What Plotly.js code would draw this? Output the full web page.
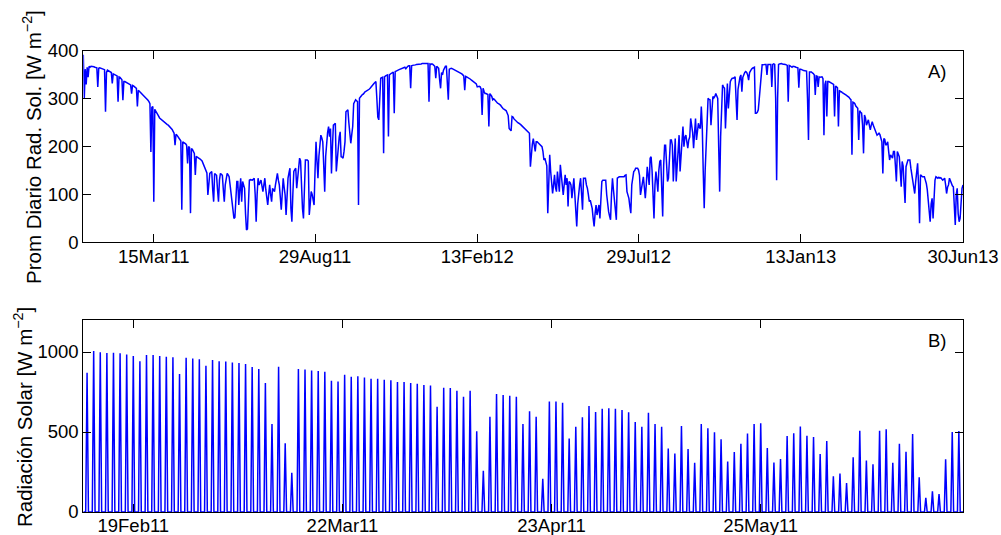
<!DOCTYPE html>
<html><head><meta charset="utf-8">
<script src="https://cdn.plot.ly/plotly-3.0.1.min.js"></script>
<style>html,body{margin:0;padding:0;background:#fff}#chart{width:1001px;height:535px}</style>
</head><body><div id="chart"></div>
<script>
// ---------- Panel A: daily mean solar radiation, one value per day from 2011-01-01 ----------
const dailyStart = '2011-01-01';
const dailyMean = [
392,300,362,330,366,345,368,366,368,368,
368,367,366,366,365,325,364,365,364,363,
362,362,361,273,355,360,359,357,356,355,
332,352,351,350,349,348,294,346,345,343,
340,297,336,336,335,334,333,331,330,329,
311,328,327,325,323,322,284,318,316,314,
312,311,309,307,305,303,300,297,294,290,
189,282,284,85,278,275,272,268,264,260,
258,256,254,252,250,249,248,246,245,243,
242,240,236,232,228,203,226,224,220,217,
215,212,68,210,209,208,206,203,165,200,
198,61,196,194,190,186,141,180,178,177,
175,174,172,170,165,160,155,150,145,99,
120,144,146,148,110,85,144,142,140,110,
85,130,144,142,140,110,85,120,135,144,
141,137,120,99,80,57,50,52,90,127,
127,78,110,134,85,127,120,113,60,26,
28,80,130,131,130,130,132,134,100,43,
100,134,120,125,130,118,106,120,134,110,
88,78,100,120,100,85,113,110,106,120,
135,144,130,120,95,68,100,134,115,99,
57,100,134,145,155,71,43,100,148,152,
155,113,140,169,176,170,92,70,50,110,
172,172,172,170,57,80,106,100,90,78,
150,210,170,134,180,214,224,218,210,160,
106,180,214,230,242,221,238,144,200,245,
247,249,148,180,203,220,231,179,178,176,
190,210,273,275,277,250,224,207,225,242,
290,294,298,296,294,78,301,304,308,309,
310,313,315,316,317,318,320,322,325,328,
330,332,334,336,300,262,256,300,343,344,
345,186,346,348,349,350,221,350,352,354,
355,356,270,357,358,360,360,361,362,363,
364,365,365,366,363,367,368,369,369,322,
369,370,370,371,371,372,372,372,373,373,
373,374,374,374,374,374,374,374,294,373,
372,373,372,370,368,343,368,366,364,340,
322,355,350,360,366,368,368,340,298,362,
364,364,363,362,361,360,359,358,357,356,
355,354,352,350,348,318,347,346,345,344,
343,341,339,337,335,334,332,331,325,326,
326,325,320,266,322,316,311,311,310,309,
242,311,308,305,298,300,298,295,293,291,
290,289,287,284,280,279,278,277,275,270,
265,238,236,233,263,262,258,256,252,252,
250,249,248,246,244,242,240,238,236,235,
234,230,228,158,190,205,217,200,190,210,
210,208,206,204,202,200,190,172,176,169,
160,61,150,183,148,130,102,120,141,115,
106,148,120,106,162,135,120,99,120,141,
120,134,75,127,125,120,92,110,134,100,
64,33,80,106,120,134,100,68,134,134,
134,120,113,100,85,88,80,71,50,33,
60,78,57,70,78,50,80,127,130,130,
130,130,100,71,64,55,47,100,134,110,
92,60,47,134,136,137,137,137,137,137,
137,140,141,106,100,92,75,61,120,137,
148,150,155,155,155,151,140,99,110,120,
137,115,92,120,158,140,120,176,179,150,
100,50,120,148,130,106,150,169,172,120,
54,160,203,203,170,127,134,180,214,214,
203,127,180,217,127,170,210,224,148,190,
210,242,200,220,224,210,197,214,220,259,
245,230,197,230,259,214,235,249,240,238,
284,240,148,71,150,203,260,301,299,298,
245,290,305,302,305,311,305,301,200,106,
220,273,329,325,322,238,300,332,280,320,
336,340,343,343,344,346,300,256,320,336,
345,350,315,345,352,355,357,355,350,339,
355,360,362,364,366,366,270,270,272,277,
300,329,350,371,371,372,372,372,350,372,
372,372,372,325,372,373,372,300,130,300,
372,373,374,374,373,373,372,372,371,370,
294,370,369,368,366,368,368,367,366,365,
365,323,362,362,360,360,359,359,358,358,
300,214,356,356,356,354,353,350,308,348,
347,325,346,345,346,346,342,224,330,338,
263,336,336,335,334,333,331,330,263,327,
325,323,242,318,315,315,313,312,311,310,
308,306,305,303,300,298,183,293,292,290,
285,282,280,214,275,272,270,245,186,266,
260,245,252,256,245,235,245,252,245,240,
238,230,224,226,228,225,215,210,144,217,
215,203,205,210,190,172,183,180,176,190,
190,160,127,190,185,179,150,116,169,160,
120,82,158,168,172,172,172,155,141,137,
120,102,127,150,165,120,40,141,138,137,
137,137,130,123,110,92,70,43,80,92,
50,100,130,137,135,134,136,134,135,132,
130,132,134,120,102,115,120,134,128,120,
118,116,80,36,100,113,60,43,50,100,
113,120
];
const topTickDates  = ['2011-03-15','2011-08-29','2012-02-13','2012-07-29','2013-01-13','2013-06-30'];
const topTickLabels = ['15Mar11','29Aug11','13Feb12','29Jul12','13Jan13','30Jun13'];
const topRange = ['2011-01-01','2013-06-30'];

// ---------- Panel B: hourly solar radiation, daily peak values from 2011-02-12 ----------
const peakStart = '2011-02-12T04:48:00Z';
const dailyPeak = [
871,1006,998,994,996,992,985,975,942,981,
981,975,971,967,862,964,960,954,914,950,
942,940,935,931,925,906,894,806,550,908,
430,245,894,890,885,881,877,821,815,858,
846,848,840,833,833,827,823,812,812,806,
802,794,790,658,777,775,758,721,758,504,
258,596,737,731,727,721,550,629,596,208,
690,690,683,460,533,592,662,625,646,648,
646,637,623,562,533,621,550,533,396,365,
537,394,308,550,523,498,454,315,375,427,
490,550,554,400,310,331,475,492,535,477,
469,363,444,223,240,181,342,508,321,298,
508,517,308,427,377,488,217,88,129,112,
329,500,506
];
// diurnal profile: hours relative to the daily peak and fraction of the peak
const profileHours = [-5, 0, 5];
const profileFrac  = [0, 1, 0];
const bottomTickDates  = ['2011-02-19 04:48','2011-03-22 20:48','2011-04-23 12:48','2011-05-25 04:48'];
const bottomTickLabels = ['19Feb11','22Mar11','23Apr11','25May11'];
const bottomRange = ['2011-02-11 15:07','2011-06-24 19:55'];

// ---------- build traces ----------
const DAY = 86400000, HOUR = 3600000;
function fmt(ms){ return new Date(ms).toISOString().slice(0,19).replace('T',' '); }
const t0 = Date.parse(dailyStart + 'T00:00:00Z');
const xTop = dailyMean.map((_, i) => fmt(t0 + i*DAY));

const p0 = Date.parse(peakStart);
const xBot = [], yBot = [];
xBot.push(bottomRange[0]); yBot.push(0);
dailyPeak.forEach((v, k) => {
  profileHours.forEach((h, j) => {
    xBot.push(fmt(p0 + k*DAY + h*HOUR));
    yBot.push(v * profileFrac[j]);
  });
});
xBot.push(bottomRange[1]); yBot.push(0);

const FONT = 'Liberation Sans, Arial, Helvetica, sans-serif';
const tickFont = {family: FONT, size: 18.5, color: '#000'};
const titleFont = {family: FONT, size: 20.5, color: '#000'};

const traces = [
  {x: xTop, y: dailyMean, type: 'scatter', mode: 'lines', xaxis: 'x', yaxis: 'y',
   line: {color: '#0000ff', width: 1.5}, hoverinfo: 'skip'},
  {x: xBot, y: yBot, type: 'scatter', mode: 'lines', xaxis: 'x2', yaxis: 'y2',
   line: {color: '#0000ff', width: 1.5}, hoverinfo: 'skip'}
];

const axCommon = {showline: true, linecolor: '#000', linewidth: 1, mirror: 'ticks',
  ticks: 'inside', ticklen: 8, tickcolor: '#000', tickwidth: 1,
  showgrid: false, zeroline: false, tickfont: tickFont, automargin: false, fixedrange: true};

const xDom = [83.3/1001, 963/1001];
const layout = {
  width: 1001, height: 535,
  margin: {l: 0, r: 0, t: 0, b: 0, pad: 0},
  paper_bgcolor: '#fff', plot_bgcolor: '#fff',
  showlegend: false,
  xaxis: Object.assign({}, axCommon, {domain: xDom, anchor: 'y', type: 'date',
    range: topRange, tickmode: 'array', tickvals: topTickDates, ticktext: topTickLabels}),
  yaxis: Object.assign({}, axCommon, {domain: [292.7/535, 484/535], anchor: 'x',
    range: [0, 400], tickmode: 'array', tickvals: [0,100,200,300,400]}),
  xaxis2: Object.assign({}, axCommon, {domain: xDom, anchor: 'y2', type: 'date',
    range: bottomRange, tickmode: 'array', tickvals: bottomTickDates, ticktext: bottomTickLabels}),
  yaxis2: Object.assign({}, axCommon, {domain: [23/535, 215/535], anchor: 'x2',
    range: [0, 1200], tickmode: 'array', tickvals: [0,500,1000]}),
  annotations: [
    {text: 'A)', xref: 'paper', yref: 'paper', x: 937/1001, y: (535-71)/535,
     xanchor: 'center', yanchor: 'middle', showarrow: false, font: tickFont},
    {text: 'B)', xref: 'paper', yref: 'paper', x: 937/1001, y: (535-340)/535,
     xanchor: 'center', yanchor: 'middle', showarrow: false, font: tickFont},
    {text: 'Prom Diario Rad. Sol. [W m<sup>−2</sup>]', xref: 'paper', yref: 'paper',
     x: 32/1001, y: (535-147)/535, xanchor: 'center', yanchor: 'middle', textangle: -90,
     showarrow: false, font: titleFont},
    {text: 'Radiación Solar [W m<sup>−2</sup>]', xref: 'paper', yref: 'paper',
     x: 23/1001, y: (535-417)/535, xanchor: 'center', yanchor: 'middle', textangle: -90,
     showarrow: false, font: titleFont}
  ]
};

Plotly.newPlot('chart', traces, layout, {staticPlot: true, displayModeBar: false}).then(() => {
  // nudge x tick labels up slightly to match the reference placement
  document.querySelectorAll('.xtick text, .x2tick text').forEach(t => {
    const tr = t.getAttribute('transform') || '';
    t.setAttribute('transform', tr + ' translate(0,-3)');
  });
});
</script>
</body></html>
